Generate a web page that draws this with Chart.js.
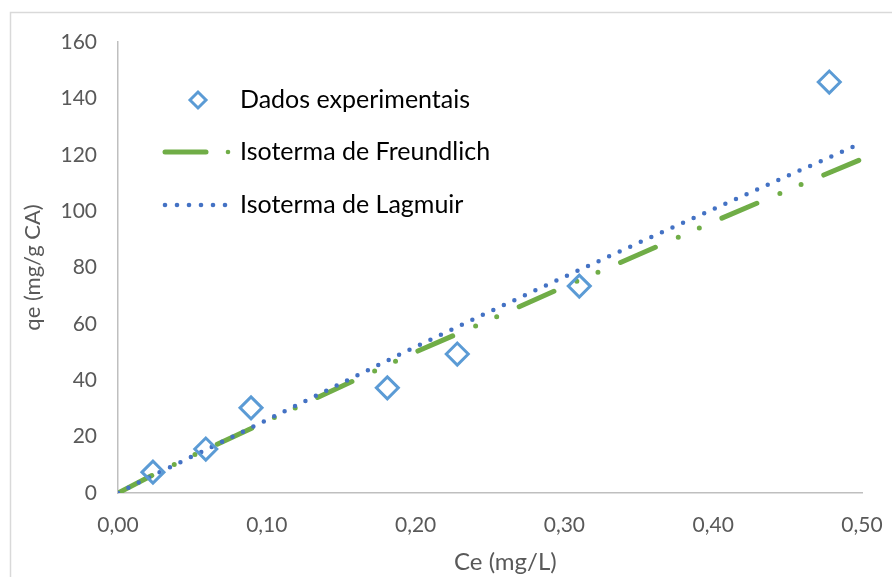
<!DOCTYPE html>
<html>
<head>
<meta charset="utf-8">
<script src="https://cdn.jsdelivr.net/npm/chart.js@4"></script>
<style>
	body { margin: 0; background: #ffffff; }
	#Plot { display: block; }
</style>
</head>
<body>
<canvas id="Plot" width="892" height="577"></canvas>
<script>
// experimental points
const ce_exp = [0.0235, 0.059, 0.0894, 0.181, 0.228, 0.310, 0.478];
const qe_exp = [7.4, 15.6, 30.2, 37.3, 49.3, 73.4, 145.8];

// model curves
const ce_fit = [0, 0.025, 0.05, 0.10, 0.15, 0.20, 0.25, 0.30, 0.35, 0.40, 0.45, 0.50];
const qe_freundlich = [0, 6.8, 13.2, 25.5, 37.8, 50.0, 61.5, 73.2, 84.6, 96.2, 107.4, 118.5];
const qe_langmuir = [0, 6.6, 13.0, 25.9, 38.9, 51.9, 64.4, 76.7, 88.8, 100.7, 112.5, 124.2];

const x_ticks = [0, 0.1, 0.2, 0.3, 0.4, 0.5];
const series_names = ["Dados experimentais", "Isoterma de Freundlich", "Isoterma de Lagmuir"];

const FONT = "Lato, 'Open Sans', sans-serif";
const BLUE_PT = "#5b9bd5";
const GREEN = "#70ad47";
const BLUE = "#4472c4";

function to_xy(xs, ys) {
	return xs.map((x, i) => ({ x: x, y: ys[i] }));
}

// light frame round the whole chart and the hand drawn legend
const frame_and_legend = {
	id: "frameAndLegend",
	beforeDraw(chart) {
		const ctx = chart.ctx;
		ctx.save();
		ctx.strokeStyle = "#d9d9d9";
		ctx.lineWidth = 1.5;
		ctx.strokeRect(10.5, 12.5, 1000, 1000);
		ctx.restore();
	},
	afterDraw(chart) {
		const ctx = chart.ctx;
		ctx.save();
		ctx.font = "25px " + FONT;
		ctx.fillStyle = "#000000";
		ctx.textBaseline = "middle";
		ctx.textAlign = "left";

		// diamond
		ctx.strokeStyle = BLUE_PT;
		ctx.lineWidth = 3;
		ctx.beginPath();
		ctx.moveTo(198 - 8, 100);
		ctx.lineTo(198, 100 - 8);
		ctx.lineTo(198 + 8, 100);
		ctx.lineTo(198, 100 + 8);
		ctx.closePath();
		ctx.stroke();
		ctx.fillText(series_names[0], 240, 100);

		// dash + dot
		ctx.strokeStyle = GREEN;
		ctx.lineWidth = 5;
		ctx.lineCap = "round";
		ctx.beginPath();
		ctx.moveTo(165, 152);
		ctx.lineTo(206, 152);
		ctx.stroke();
		ctx.fillStyle = GREEN;
		ctx.beginPath();
		ctx.arc(228, 152, 2.3, 0, Math.PI * 2);
		ctx.fill();
		ctx.fillStyle = "#000000";
		ctx.fillText(series_names[1], 240, 152);

		// dots
		ctx.fillStyle = BLUE;
		for (let i = 0; i < 6; i++) {
			ctx.beginPath();
			ctx.arc(165 + i * 12, 205, 2.3, 0, Math.PI * 2);
			ctx.fill();
		}
		ctx.fillStyle = "#000000";
		ctx.fillText(series_names[2], 240, 205);
		ctx.restore();
	},
};

new Chart(document.getElementById("Plot").getContext("2d"), {
	type: "scatter",
	data: {
		datasets: [
			{
				label: series_names[1],
				data: to_xy(ce_fit, qe_freundlich),
				showLine: true,
				borderColor: GREEN,
				borderWidth: 5,
				borderDash: [38, 25, 0, 23, 0, 24.6],
				borderCapStyle: "round",
				pointRadius: 0,
				order: 3,
			},
			{
				label: series_names[2],
				data: to_xy(ce_fit, qe_langmuir),
				showLine: true,
				borderColor: BLUE,
				borderWidth: 4.5,
				borderDash: [0, 11.6],
				borderCapStyle: "round",
				pointRadius: 0,
				order: 2,
			},
			{
				label: series_names[0],
				data: to_xy(ce_exp, qe_exp),
				pointStyle: "rectRot",
				pointRadius: 11,
				pointBorderWidth: 3,
				pointBorderColor: BLUE_PT,
				pointBackgroundColor: "rgba(0,0,0,0)",
				order: 1,
			},
		],
	},
	options: {
		responsive: false,
		animation: false,
		layout: { padding: { left: 10, top: 42, right: 30, bottom: 0 } },
		plugins: {
			legend: { display: false },
			tooltip: { enabled: false },
		},
		scales: {
			x: {
				type: "linear",
				min: 0,
				max: 0.5,
				afterBuildTicks: (scale) => {
					scale.ticks = x_ticks.map((v) => ({ value: v }));
				},
				afterFit: (scale) => {
					scale.height = 84;
					scale.paddingLeft = 0;
					scale.paddingRight = 0;
				},
				grid: { display: false, drawTicks: false },
				border: { display: true, color: "#bfbfbf", width: 1.5 },
				ticks: {
					color: "#595959",
					font: { family: FONT, size: 21 },
					padding: 20,
					callback: (v) => v.toFixed(2).replace(".", ","),
				},
				title: {
					display: true,
					text: "     Ce (mg/L)",
					color: "#595959",
					font: { family: FONT, size: 24 },
					padding: { top: 0, bottom: 0 },
				},
			},
			y: {
				min: 0,
				max: 160,
				afterFit: (scale) => {
					scale.width = 108;
					scale.paddingTop = 0;
					scale.paddingBottom = 0;
				},
				grid: { display: false, drawTicks: false },
				border: { display: true, color: "#bfbfbf", width: 1.5 },
				ticks: {
					stepSize: 20,
					color: "#595959",
					font: { family: FONT, size: 21 },
					padding: 21,
				},
				title: {
					display: true,
					text: "qe (mg/g CA)",
					color: "#595959",
					font: { family: FONT, size: 22 },
					padding: { top: 10, bottom: 0 },
				},
			},
		},
	},
	plugins: [frame_and_legend],
});
</script>
</body>
</html>
